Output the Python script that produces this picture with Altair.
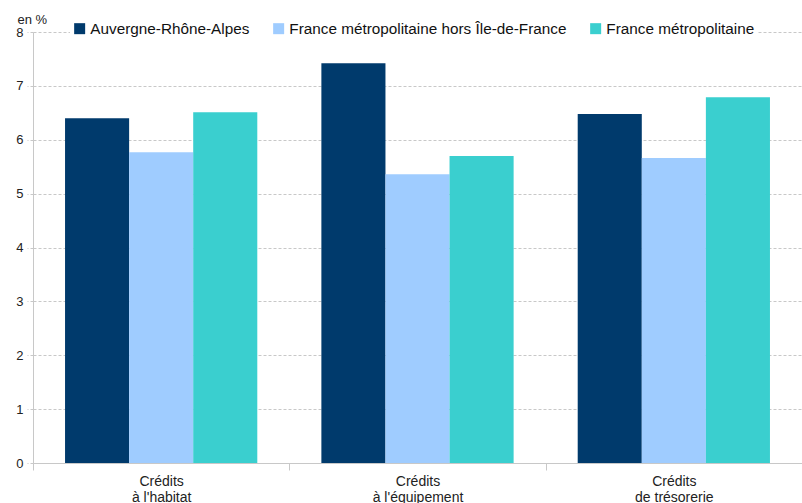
import altair as alt
import pandas as pd

categories = ["Crédits à l'habitat", "Crédits à l'équipement", "Crédits de trésorerie"]
series = ["Auvergne-Rhône-Alpes", "France métropolitaine hors Île-de-France", "France métropolitaine"]
values_ara = [6.40, 7.42, 6.48]
values_hors_idf = [5.77, 5.36, 5.66]
values_france = [6.51, 5.70, 6.79]
colors = ["#003a6c", "#9fccff", "#3acfcf"]

rows = []
for s, vals in zip(series, [values_ara, values_hors_idf, values_france]):
    for c, v in zip(categories, vals):
        rows.append({"cat": c, "serie": s, "val": v})
df = pd.DataFrame(rows)

font = "Liberation Sans"

chart = alt.Chart(df).mark_bar().encode(
    x=alt.X("cat:N", sort=categories, title=None,
            scale=alt.Scale(paddingInner=0, paddingOuter=0),
            axis=alt.Axis(labelAngle=0, tickBand="extent", tickSize=7, tickColor="#c8c8c8",
                          domainColor="#c8c8c8", labelFont="Liberation Sans Narrow, Liberation Sans",
                          labelFontSize=14, labelColor="#222", labelPadding=4, labelLineHeight=16,
                          labelExpr="datum.label ? ['Crédits', substring(datum.label, 8)] : ''")),
    xOffset=alt.XOffset("serie:N", sort=series,
                        scale=alt.Scale(paddingOuter=0.5, paddingInner=0)),
    y=alt.Y("val:Q", scale=alt.Scale(domain=[0, 8]),
            axis=alt.Axis(values=[0, 1, 2, 3, 4, 5, 6, 7, 8], title="en %", titleAngle=0,
                          titleAlign="left", titleBaseline="alphabetic", titleX=-16, titleY=-9,
                          titleFont=font, titleFontSize=13, titleFontWeight="normal", titleColor="#222",
                          labelFont=font, labelFontSize=13, labelColor="#222", labelPadding=4,
                          tickSize=6, tickColor="#c8c8c8", domainColor="#c8c8c8",
                          gridColor="#c8c8c8", gridDash=[3, 2], tickDash=[3, 2])),
    color=alt.Color("serie:N", sort=series,
                    scale=alt.Scale(domain=series, range=colors),
                    legend=alt.Legend(title=None, orient="none", legendX=37, legendY=-13,
                                      direction="horizontal", symbolType="square", symbolSize=121,
                                      symbolStrokeWidth=0, labelFont=font, labelFontSize=15.3,
                                      labelColor="#111", labelOffset=3, columnPadding=21,
                                      labelLimit=500, fillColor="white", padding=2)),
).properties(
    width=769, height=431,
    autosize=alt.AutoSizeParams(type="none"),
    padding={"left": 33, "top": 32, "right": 0, "bottom": 40},
).configure_view(stroke=None)

chart.save("out.html", embed_options={"renderer": "svg", "actions": False})
